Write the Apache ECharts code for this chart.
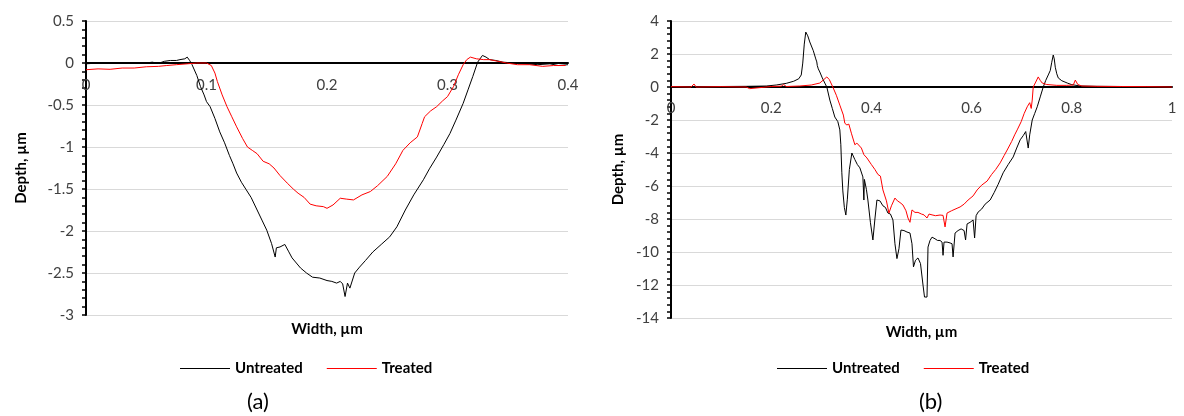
<!DOCTYPE html>
<html>
<head>
<meta charset="utf-8">
<script src="https://cdn.jsdelivr.net/npm/echarts@6/dist/echarts.min.js"></script>
<style>
html,body{margin:0;padding:0;background:#fff;}
#chart{width:1184px;height:416px;}
</style>
</head>
<body>
<div id="chart"></div>
<script>
// ---- Data (Width µm, Depth µm) ----
const seriesNames = ['Untreated', 'Treated'];
const seriesColors = ['#000000', '#ff0000'];
const xTicksA = [0, 0.1, 0.2, 0.3, 0.4];
const yTicksA = [-3, -2.5, -2, -1.5, -1, -0.5, 0, 0.5];
const xTicksB = [0, 0.2, 0.4, 0.6, 0.8, 1];
const yTicksB = [-14, -12, -10, -8, -6, -4, -2, 0, 2, 4];

const untreatedA = [[0,-0.01],[0.01,0.0],[0.02,-0.005],[0.03,0.0],[0.04,0.005],[0.05,0.0],[0.055,0.01],[0.06,-0.005],[0.065,0.02],[0.07,0.03],[0.075,0.03],[0.078,0.04],[0.082,0.05],[0.084,0.07],[0.086,0.03],[0.088,-0.02],[0.092,-0.15],[0.095,-0.28],[0.098,-0.38],[0.1,-0.46],[0.103,-0.52],[0.107,-0.66],[0.111,-0.82],[0.115,-0.95],[0.119,-1.1],[0.122,-1.2],[0.125,-1.31],[0.129,-1.42],[0.133,-1.51],[0.137,-1.6],[0.142,-1.75],[0.146,-1.87],[0.150,-1.99],[0.154,-2.15],[0.157,-2.31],[0.158,-2.2],[0.161,-2.19],[0.165,-2.16],[0.168,-2.24],[0.171,-2.32],[0.178,-2.44],[0.183,-2.5],[0.188,-2.55],[0.194,-2.56],[0.2,-2.59],[0.204,-2.6],[0.208,-2.62],[0.211,-2.6],[0.213,-2.63],[0.215,-2.78],[0.217,-2.62],[0.219,-2.68],[0.223,-2.5],[0.227,-2.43],[0.232,-2.35],[0.238,-2.25],[0.245,-2.16],[0.252,-2.07],[0.258,-1.95],[0.265,-1.75],[0.272,-1.57],[0.28,-1.39],[0.285,-1.26],[0.291,-1.12],[0.297,-0.97],[0.302,-0.84],[0.307,-0.68],[0.313,-0.48],[0.317,-0.32],[0.321,-0.16],[0.325,0.01],[0.329,0.09],[0.332,0.07],[0.335,0.04],[0.34,0.03],[0.346,0.01],[0.355,0.0],[0.365,-0.01],[0.375,-0.02],[0.385,-0.01],[0.392,-0.03],[0.4,-0.02]];

const treatedA = [[0,-0.08],[0.01,-0.07],[0.02,-0.075],[0.03,-0.06],[0.04,-0.06],[0.05,-0.045],[0.06,-0.04],[0.067,-0.03],[0.075,-0.02],[0.084,-0.01],[0.092,0.0],[0.1,0.0],[0.104,-0.03],[0.107,-0.12],[0.109,-0.22],[0.113,-0.38],[0.117,-0.52],[0.121,-0.64],[0.125,-0.76],[0.13,-0.9],[0.134,-1.0],[0.138,-1.04],[0.142,-1.08],[0.147,-1.17],[0.152,-1.2],[0.156,-1.25],[0.161,-1.34],[0.167,-1.43],[0.172,-1.5],[0.176,-1.55],[0.181,-1.6],[0.186,-1.68],[0.191,-1.7],[0.197,-1.71],[0.2,-1.73],[0.205,-1.69],[0.211,-1.61],[0.216,-1.62],[0.222,-1.63],[0.229,-1.57],[0.236,-1.53],[0.242,-1.46],[0.25,-1.35],[0.257,-1.2],[0.263,-1.04],[0.269,-0.95],[0.275,-0.88],[0.279,-0.72],[0.281,-0.64],[0.286,-0.57],[0.291,-0.52],[0.296,-0.45],[0.3,-0.4],[0.305,-0.28],[0.309,-0.14],[0.313,-0.02],[0.316,0.04],[0.319,0.07],[0.324,0.05],[0.33,0.04],[0.335,0.04],[0.342,0.02],[0.349,0.0],[0.358,-0.02],[0.368,-0.02],[0.379,-0.04],[0.388,-0.03],[0.398,-0.03]];

const untreatedB = [[0,0.02],[0.05,0.0],[0.1,0.03],[0.15,0.04],[0.19,0.06],[0.21,0.12],[0.23,0.22],[0.245,0.35],[0.255,0.5],[0.26,0.73],[0.263,1.45],[0.266,2.6],[0.269,3.33],[0.273,3.1],[0.277,2.73],[0.284,2.2],[0.289,1.7],[0.291,1.52],[0.292,1.3],[0.294,1.1],[0.297,0.91],[0.302,0.55],[0.307,0.24],[0.311,0.0],[0.317,-0.79],[0.322,-1.3],[0.327,-1.82],[0.333,-2.1],[0.337,-2.6],[0.339,-3.5],[0.341,-5.2],[0.343,-6.3],[0.346,-7.3],[0.349,-7.76],[0.352,-6.8],[0.356,-5.0],[0.361,-4.0],[0.367,-4.4],[0.372,-4.7],[0.377,-4.9],[0.383,-5.45],[0.385,-6.85],[0.386,-5.6],[0.39,-6.2],[0.393,-6.85],[0.398,-8.2],[0.403,-9.27],[0.407,-8.0],[0.411,-6.85],[0.417,-6.9],[0.423,-7.2],[0.428,-7.3],[0.433,-7.64],[0.438,-7.7],[0.443,-8.06],[0.447,-9.5],[0.451,-10.4],[0.455,-9.8],[0.459,-8.67],[0.465,-8.7],[0.471,-8.79],[0.477,-8.85],[0.481,-9.5],[0.484,-10.9],[0.488,-10.5],[0.493,-10.36],[0.498,-10.7],[0.503,-12.0],[0.506,-12.73],[0.511,-12.73],[0.513,-9.7],[0.517,-9.3],[0.521,-9.1],[0.527,-9.2],[0.532,-9.3],[0.537,-9.3],[0.541,-9.4],[0.543,-10.2],[0.545,-9.4],[0.551,-9.4],[0.557,-9.45],[0.561,-9.5],[0.563,-10.3],[0.567,-8.85],[0.573,-8.7],[0.579,-8.6],[0.585,-8.7],[0.588,-9.27],[0.591,-8.3],[0.597,-8.2],[0.603,-8.06],[0.606,-9.15],[0.609,-7.8],[0.613,-7.58],[0.62,-7.4],[0.627,-7.1],[0.637,-6.85],[0.645,-6.4],[0.653,-5.9],[0.663,-5.2],[0.673,-4.7],[0.683,-4.24],[0.69,-3.7],[0.697,-3.2],[0.703,-2.95],[0.708,-2.7],[0.711,-2.6],[0.713,-3.7],[0.716,-2.9],[0.721,-2.0],[0.726,-1.6],[0.731,-1.2],[0.737,-0.6],[0.743,0.0],[0.748,0.4],[0.753,0.73],[0.757,1.0],[0.76,1.5],[0.763,1.94],[0.765,1.7],[0.767,1.2],[0.77,0.8],[0.773,0.55],[0.78,0.38],[0.791,0.24],[0.8,0.14],[0.817,0.06],[0.85,0.04],[0.9,0.03],[0.95,0.02],[1.0,0.01]];

const treatedB = [[0,0.02],[0.04,0.0],[0.046,0.18],[0.05,0.0],[0.1,0.02],[0.15,0.0],[0.157,-0.1],[0.16,0.02],[0.2,0.03],[0.22,0.05],[0.225,0.15],[0.23,0.03],[0.257,0.06],[0.28,0.12],[0.297,0.24],[0.305,0.45],[0.311,0.61],[0.316,0.45],[0.323,0.0],[0.33,-0.5],[0.337,-1.1],[0.344,-1.7],[0.347,-2.2],[0.351,-2.3],[0.355,-2.25],[0.36,-2.8],[0.367,-3.5],[0.371,-3.4],[0.373,-3.3],[0.38,-3.7],[0.385,-4.1],[0.391,-4.3],[0.4,-4.7],[0.407,-5.0],[0.413,-5.3],[0.418,-5.4],[0.423,-6.24],[0.43,-6.9],[0.435,-7.64],[0.44,-7.2],[0.447,-6.73],[0.452,-6.9],[0.457,-7.0],[0.463,-7.15],[0.469,-7.5],[0.473,-7.94],[0.477,-8.2],[0.481,-7.45],[0.487,-7.6],[0.493,-7.6],[0.5,-7.7],[0.505,-7.75],[0.511,-7.94],[0.515,-7.7],[0.521,-7.75],[0.528,-7.8],[0.537,-7.76],[0.543,-7.78],[0.547,-8.48],[0.551,-7.64],[0.56,-7.5],[0.571,-7.35],[0.577,-7.27],[0.585,-7.1],[0.593,-6.85],[0.603,-6.6],[0.611,-6.24],[0.62,-5.95],[0.631,-5.7],[0.64,-5.3],[0.648,-5.0],[0.657,-4.6],[0.665,-4.15],[0.671,-3.82],[0.68,-3.3],[0.686,-2.9],[0.691,-2.6],[0.699,-2.1],[0.705,-1.6],[0.711,-1.2],[0.716,-0.95],[0.719,-1.3],[0.721,-0.79],[0.723,0.0],[0.728,0.3],[0.733,0.61],[0.737,0.4],[0.741,0.24],[0.75,0.15],[0.77,0.1],[0.79,0.1],[0.803,0.12],[0.807,0.42],[0.812,0.15],[0.82,0.06],[0.85,0.04],[0.9,0.03],[0.95,0.02],[1.0,0.0]];

const FONT = 'Lato, "Open Sans", sans-serif';
const tickColor = '#404040';

function xAxisFor(gridIndex, ticks, margin, nameGap) {
  const step = ticks[1] - ticks[0];
  return {
    type: 'value', gridIndex: gridIndex,
    min: ticks[0], max: ticks[ticks.length - 1], interval: step,
    name: 'Width, µm', nameLocation: 'middle', nameGap: nameGap,
    nameTextStyle: {fontFamily: FONT, fontWeight: 'bold', fontSize: 15, color: '#000'},
    axisLine: {onZero: true, lineStyle: {color: '#000', width: 2}},
    axisTick: {show: false},
    splitLine: {show: false},
    axisLabel: {fontFamily: FONT, fontSize: 15, color: tickColor, margin: margin, showMinLabel: true, showMaxLabel: true}
  };
}
function yAxisFor(gridIndex, ticks, nameGap) {
  const step = ticks[1] - ticks[0];
  return {
    type: 'value', gridIndex: gridIndex,
    min: ticks[0], max: ticks[ticks.length - 1], interval: step,
    name: 'Depth, µm', nameLocation: 'middle', nameGap: nameGap,
    nameTextStyle: {fontFamily: FONT, fontWeight: 'bold', fontSize: 15, color: '#000'},
    axisLine: {show: true, onZero: false, lineStyle: {color: '#000', width: 2}},
    axisTick: {show: true, length: 4, lineStyle: {color: '#000', width: 1.5}},
    minorTick: {show: true, splitNumber: 5, length: 4, lineStyle: {color: '#000', width: 1.5}},
    splitLine: {show: true, lineStyle: {color: '#d9d9d9', width: 1}},
    axisLabel: {fontFamily: FONT, fontSize: 15, color: tickColor, margin: 12}
  };
}
function lineSeries(name, data, idx, color) {
  return {
    name: name, type: 'line', xAxisIndex: idx, yAxisIndex: idx,
    data: data, showSymbol: false, symbol: 'none',
    lineStyle: {color: color, width: 1}, itemStyle: {color: color},
    animation: false
  };
}
function legendFor(left) {
  return {
    left: left, top: 356,
    data: seriesNames.map((n, i) => ({name: n, itemStyle: {color: seriesColors[i]}})),
    icon: 'rect', itemWidth: 50, itemHeight: 1, itemGap: 24,
    textStyle: {fontFamily: FONT, fontWeight: 'bold', fontSize: 15, color: '#000'}
  };
}

const chart = echarts.init(document.getElementById('chart'), null, {renderer: 'canvas'});
chart.setOption({
  animation: false,
  backgroundColor: '#fff',
  grid: [
    {left: 86, right: 616, top: 21, bottom: 101, containLabel: false, outerBoundsMode: 'none'},
    {left: 671, right: 12, top: 21, bottom: 98, containLabel: false, outerBoundsMode: 'none'}
  ],
  xAxis: [
    xAxisFor(0, xTicksA, -237, 7),
    xAxisFor(1, xTicksB, -217, 7)
  ],
  yAxis: [yAxisFor(0, yTicksA, 57), yAxisFor(1, yTicksB, 45)],
  legend: [legendFor(175), legendFor(772)],
  series: [
    lineSeries(seriesNames[0], untreatedA, 0, seriesColors[0]),
    lineSeries(seriesNames[1], treatedA, 0, seriesColors[1]),
    lineSeries(seriesNames[0], untreatedB, 1, seriesColors[0]),
    lineSeries(seriesNames[1], treatedB, 1, seriesColors[1])
  ],
  graphic: [
    {type: 'text', left: 247, top: 391, style: {text: '(a)', font: '22px ' + FONT, fill: '#000'}},
    {type: 'text', left: 919, top: 391, style: {text: '(b)', font: '22px ' + FONT, fill: '#000'}}
  ]
});
</script>
</body>
</html>
